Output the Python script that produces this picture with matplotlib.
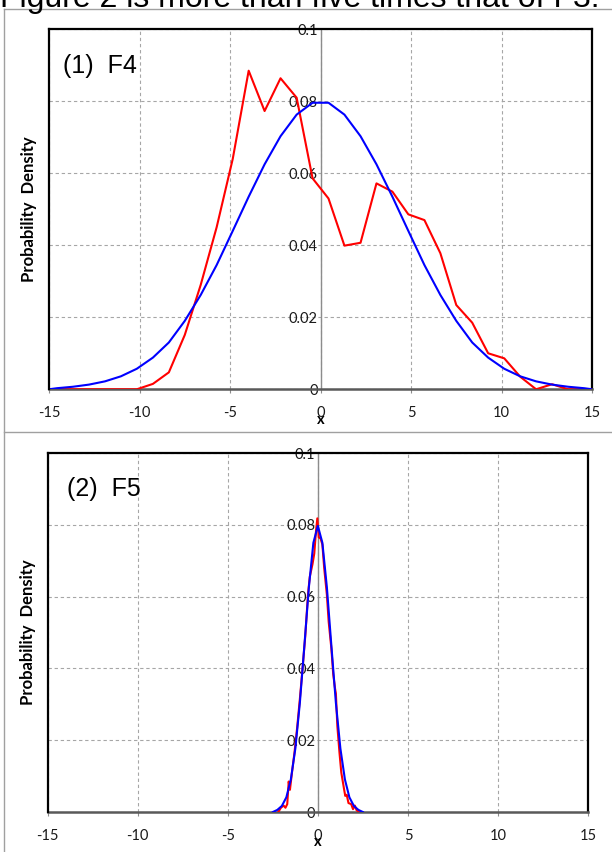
import matplotlib
matplotlib.use('Agg')
import matplotlib.pyplot as plt
from matplotlib.lines import Line2D
from matplotlib.ticker import FuncFormatter

plt.rcParams['axes.unicode_minus'] = False

# ----- data -----

# panel (1) F4 : bin centres over -15..15 plus the end points
x_f4 = [-15, -14.56, -13.68, -12.79, -11.91, -11.03, -10.15, -9.26, -8.38,
        -7.5, -6.62, -5.74, -4.85, -3.97, -3.09, -2.21, -1.32, -0.44,
        0.44, 1.32, 2.21, 3.09, 3.97, 4.85, 5.74, 6.62, 7.5, 8.38, 9.26,
        10.15, 11.03, 11.91, 12.79, 13.68, 14.56, 15]
red_f4 = [0, 0, 0, 0, 0, 0, 0, 0.0015, 0.0047,
          0.0151, 0.029, 0.045, 0.064, 0.0885, 0.0773, 0.0864, 0.081, 0.0586,
          0.053, 0.0399, 0.0407, 0.0572, 0.0549, 0.0486, 0.047, 0.0378, 0.0234,
          0.0185, 0.010, 0.0086, 0.0035, 0.0, 0.0014, 0.0, 0.0, 0]
blue_f4 = [0, 0.0003, 0.0007, 0.0013, 0.0022, 0.0036, 0.0057, 0.0088, 0.0130,
           0.0190, 0.0262, 0.0345, 0.0440, 0.0535, 0.0625, 0.0703, 0.0763, 0.0796,
           0.0796, 0.0763, 0.0703, 0.0625, 0.0535, 0.0440, 0.0345, 0.0262, 0.0190,
           0.0130, 0.0088, 0.0057, 0.0036, 0.0022, 0.0013, 0.0007, 0.0003, 0]

# panel (2) F5
x_f5_red = [-2.2, -2.05, -1.9, -1.8, -1.7, -1.62, -1.55, -1.45, -1.3, -1.15,
            -1.0, -0.85, -0.7, -0.55, -0.45, -0.3, -0.2, -0.1, -0.03, 0.05,
            0.15, 0.25, 0.35, 0.5, 0.6, 0.75, 0.85, 0.95, 1.0, 1.08,
            1.2, 1.3, 1.45, 1.52, 1.6, 1.7, 1.85, 1.95, 2.05, 2.15, 2.3]
red_f5 = [0.0, 0.0012, 0.0018, 0.0012, 0.0022, 0.0085, 0.0062, 0.0105, 0.0165, 0.0235,
          0.0315, 0.040, 0.049, 0.0605, 0.0655, 0.069, 0.072, 0.0785, 0.0818, 0.0765,
          0.0762, 0.0745, 0.068, 0.0605, 0.053, 0.0455, 0.0385, 0.0345, 0.033, 0.024,
          0.0165, 0.011, 0.0065, 0.0045, 0.0048, 0.0025, 0.0022, 0.0008, 0.0018, 0.0005, 0.0]
x_f5_blue = [-2.5, -2.25, -2.0, -1.75, -1.5, -1.25, -1.0, -0.75, -0.5, -0.25, 0,
             0.25, 0.5, 0.75, 1.0, 1.25, 1.5, 1.75, 2.0, 2.25, 2.5]
blue_f5 = [0.0, 0.0006, 0.0017, 0.0041, 0.0091, 0.0177, 0.0304, 0.0463, 0.0626, 0.075, 0.0797,
           0.075, 0.0626, 0.0463, 0.0304, 0.0177, 0.0091, 0.0041, 0.0017, 0.0006, 0.0]

x_ticks = [-15, -10, -5, 0, 5, 10, 15]
y_ticks = [0, 0.02, 0.04, 0.06, 0.08, 0.1]

# ----- drawing -----

tick_font = 'Lato'
fig = plt.figure(figsize=(6.12, 8.52), dpi=100)


def panel(rect, xr, yr, xb, yb, title, title_x):
    ax = fig.add_axes(rect)
    ax.plot(xr, yr, color='#ff0000', lw=1.5, zorder=3)
    ax.plot(xb, yb, color='#0000ff', lw=1.5, zorder=4)
    ax.set_xlim(-15, 15)
    ax.set_ylim(0, 0.1)

    # excel style: y axis crosses at x = 0, frame around the plot area
    ax.spines['left'].set_position(('data', 0))
    ax.spines['left'].set_color('#8c8c8c')
    ax.spines['left'].set_linewidth(1.0)
    ax.spines['bottom'].set_color('#595959')
    ax.spines['bottom'].set_linewidth(1.8)
    for s in ('top', 'right'):
        ax.spines[s].set_color('black')
        ax.spines[s].set_linewidth(1.6)
    ax.add_line(Line2D([0, 0], [0, 1], transform=ax.transAxes, color='black',
                       lw=1.6, clip_on=False, zorder=5))

    ax.set_xticks(x_ticks)
    ax.set_yticks(y_ticks)
    ax.yaxis.set_major_formatter(FuncFormatter(lambda v, p: '%g' % v))
    ax.tick_params(axis='x', length=3, color='#8c8c8c', pad=9,
                   labelsize=10.5, labelcolor='#1a1a1a')
    ax.tick_params(axis='y', length=0, pad=2, labelsize=10.5,
                   labelcolor='#1a1a1a')
    for lab in ax.get_xticklabels() + ax.get_yticklabels():
        lab.set_fontfamily(tick_font)

    ax.grid(True, color='#a6a6a6', lw=0.8, linestyle=(0, (3, 2.5)))
    ax.set_axisbelow(True)

    ax.set_xlabel('x', fontfamily=tick_font, fontweight='bold', fontsize=10.5)
    ax.xaxis.set_label_coords(0.5, -0.065)
    ax.set_ylabel('Probability  Density', fontfamily=tick_font,
                  fontweight='bold', fontsize=12)
    ax.yaxis.set_label_coords(-0.022, 0.5)

    ax.text(title_x, 0.88, title, transform=ax.transAxes, fontsize=18,
            fontfamily='Liberation Sans', va='baseline', ha='left')
    return ax


ax1 = panel([0.0801, 0.5431, 0.8873, 0.4225], x_f4, red_f4, x_f4, blue_f4,
            '(1)  F4', 0.025)
ax2 = panel([0.0779, 0.0469, 0.8830, 0.4214], x_f5_red, red_f5,
            x_f5_blue, blue_f5, '(2)  F5', 0.035)

# grey chart-area borders
W, H = 612.0, 852.0
grey = '#a0a0a0'
fig.add_artist(Line2D([4 / W, 4 / W], [1 - 9 / H, 0], color=grey, lw=1.0))
fig.add_artist(Line2D([4 / W, 1], [1 - 9 / H, 1 - 9 / H], color=grey, lw=1.0))
fig.add_artist(Line2D([4 / W, 1], [1 - 432 / H, 1 - 432 / H], color=grey, lw=1.0))

# caption line cut off at the top of the picture
fig.text(0.0, 1 - 7 / H, 'Figure 2 is more than five times that of F3.',
         fontsize=23, fontfamily='Liberation Sans', va='baseline', ha='left')

fig.savefig('out.png', dpi=100)
